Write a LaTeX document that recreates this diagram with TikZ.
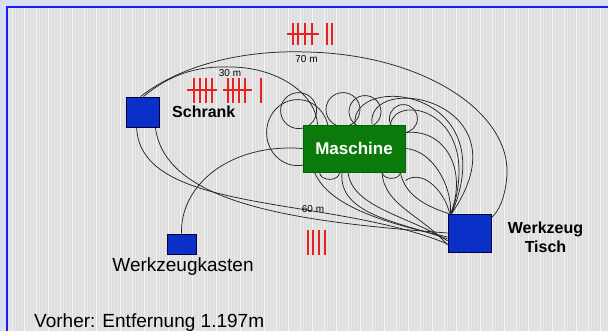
\documentclass[tikz,border=0pt]{standalone}
\usepackage{fontspec}
\setmainfont{Liberation Sans}
\usepackage{tikz}
\usetikzlibrary{calc,positioning}
\definecolor{outer}{HTML}{D8E0F4}
\definecolor{frameblue}{HTML}{1E1EF0}
\definecolor{paper}{HTML}{DEDEDE}
\definecolor{boxblue}{HTML}{0A30C8}
\definecolor{boxgreen}{HTML}{0A7A0A}
\definecolor{tallyred}{HTML}{E82020}
\tikzset{
  wire/.style={draw=black!85,line width=.75pt},
  place/.style={draw=black!75!blue,fill=boxblue,line width=.8pt,inner sep=0pt},
  machine/.style={draw=black!60!green,fill=boxgreen,line width=.8pt,inner sep=0pt,text=white,font=\fontsize{17}{20}\selectfont\bfseries},
  tally/.style={draw=tallyred,line width=1.5pt},
  dist/.style={font=\fontsize{10}{12}\selectfont,anchor=base,inner sep=0pt},
  tag/.style={font=\fontsize{16}{19}\selectfont\bfseries,anchor=base,inner sep=0pt},
  plain/.style={font=\fontsize{19}{22}\selectfont,inner sep=0pt}
}
\begin{document}
\begin{tikzpicture}[x=1pt,y=-1pt]
  \useasboundingbox (0,0) rectangle (608,331);
  \fill[outer] (0,0) rectangle (608,331);
  \fill[paper] (7,7) rectangle (608,331);
  \draw[white,opacity=.3,line width=.3pt] (7,7) grid[step=3] (608,331);
  \draw[white,opacity=.7,line width=.7pt] (7,7) grid[step=12] (608,331);
  \draw[frameblue,line width=2.5pt] (7,331) -- (7,7) -- (608,7);

  \node[place,minimum width=33,minimum height=30] (schrank) at (142.5,112) {};
  \node[machine,minimum width=102,minimum height=47] (maschine) at (354,148.5) {};
  \node[place,minimum width=43,minimum height=38] (tisch) at (469.5,233) {};
  \node[place,minimum width=29,minimum height=20] (kasten) at (181.5,244) {};

  \draw[wire] ([xshift=-2]schrank.north) .. controls (185,62) and (250,50) .. (306,52)
    .. controls (420,54) and (510,110) .. (507,175)
    .. controls (505,200) and (498,212) .. ([yshift=-4]tisch.north east);
  \draw[wire] ([xshift=1]schrank.north) .. controls (175,70) and (205,66) .. (232,67)
    .. controls (280,68) and (316,95) .. ([xshift=15]maschine.north west);
  \draw[wire] ([xshift=11]schrank.south west) .. controls (140,215) and (330,195) .. ([yshift=-11]tisch.west);
  \draw[wire] ([xshift=-4]schrank.south east) .. controls (165,205) and (300,222) .. (tisch.west);
  \draw[wire] (kasten.north) .. controls (180,185) and (230,143) .. (maschine.west);

  \draw[wire] ($(maschine.north west)+(-4,-14)$) circle (18);
  \draw[wire] ($(maschine.north west)+(-5,8)$) ellipse (31 and 33);
  \draw[wire] ($(maschine.north)+(-11,-15)$) circle (17);
  \draw[wire] ($(maschine.north)+(11,-13)$) circle (16);
  \draw[wire] ($(maschine.north east)+(-2,-6)$) circle (14);
  \draw[wire] ($(maschine.south west)+(27,0)$) ellipse (10 and 7);
  \draw[wire] ($(maschine.south east)+(-14,0)$) ellipse (9 and 6);

  \draw[wire] ([xshift=18]maschine.north) .. controls (365,70) and (530,100) .. ([xshift=4]tisch.north west);
  \draw[wire] ([xshift=1]maschine.north) .. controls (350,72) and (505,88) .. ([xshift=4]tisch.north west);
  \draw[wire] ([xshift=-15]maschine.north east) .. controls (395,92) and (485,110) .. ([xshift=4]tisch.north west);
  \draw[wire] ([yshift=-8]maschine.north east) .. controls (445,128) and (468,170) .. ([xshift=3]tisch.north west);
  \draw[wire] (maschine.east) .. controls (432,150) and (452,185) .. ([xshift=3]tisch.north west);
  \draw[wire] ([yshift=-8]maschine.south east) .. controls (425,168) and (446,195) .. ([xshift=2]tisch.north west);
  \draw[wire] ([xshift=-5]maschine.south east) .. controls (405,198) and (432,208) .. ([xshift=1]tisch.north west);
  \draw[wire] ([xshift=28]maschine.south) .. controls (384,205) and (420,214) .. ([yshift=-12]tisch.west);
  \draw[wire] ([xshift=-6]maschine.south) .. controls (352,208) and (410,216) .. ([yshift=-8]tisch.west);
  \draw[wire] ([xshift=-12]maschine.south) .. controls (338,215) and (400,222) .. ([yshift=-6]tisch.west);
  \draw[wire] ([xshift=12]maschine.south west) .. controls (330,210) and (400,226) .. ([yshift=-4]tisch.west);

  \node[place,minimum width=33,minimum height=30] at (schrank) {};
  \node[machine,minimum width=102,minimum height=47] at (maschine) {Maschine};
  \node[place,minimum width=43,minimum height=38] at (tisch) {};
  \node[place,minimum width=29,minimum height=20] at (kasten) {};

  \foreach \x in {293,298,305,312,327,332} \draw[tally] (\x,23) -- (\x,45);
  \draw[tally] (287,34) -- (319,34);
  \foreach \x in {194,200,206,212,228,233,239,245,261} \draw[tally] (\x,78) -- (\x,103);
  \draw[tally] (187,90) -- (217,90);
  \draw[tally] (223,90) -- (252,90);
  \foreach \x in {308,313,319,325} \draw[tally] (\x,230) -- (\x,255);

  \node[dist] (d70) at (306.5,63) {70 m};
  \node[dist] (d30) at (230,77) {30 m};
  \node[dist] (d60) at (313,213) {60 m};
  \node[tag,anchor=base west] (lschrank) at (172,118) {Schrank};
  \node[tag] (ltisch1) at (545.5,234) {Werkzeug};
  \node[tag] (ltisch2) at (545.5,253) {Tisch};
  \node[plain,anchor=base] (lkasten) at (183,272) {Werkzeugkasten};
  \node[plain,anchor=base west] (vorher) at (34,327) {Vorher: Entfernung 1.197m};
\end{tikzpicture}
\end{document}
